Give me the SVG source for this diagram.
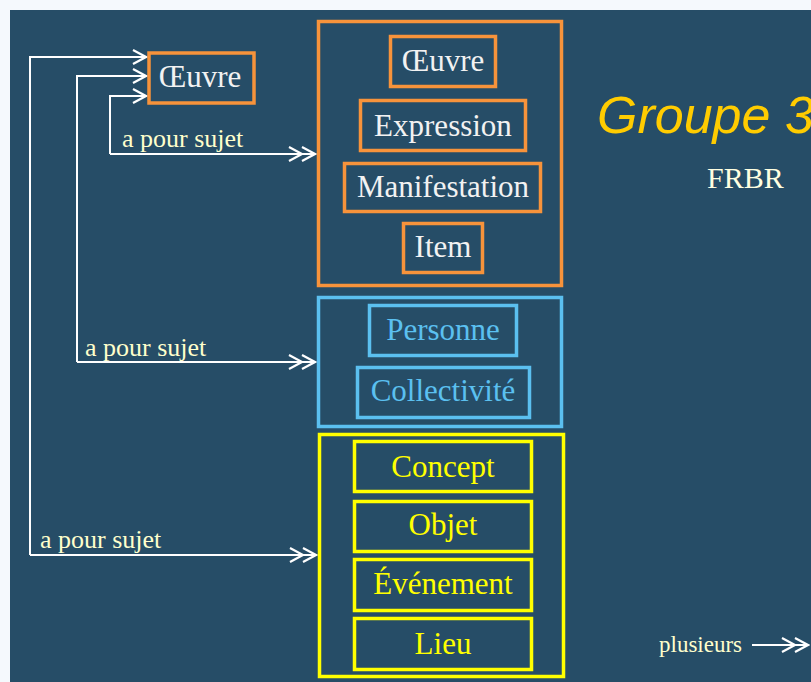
<svg xmlns="http://www.w3.org/2000/svg" width="811" height="682" viewBox="0 0 811 682">
<style>
.bg{fill:#264D67}
.box{fill:none;stroke-width:3.5}
.or{stroke:#F7933B}
.bl{stroke:#5BC0F0}
.ye{stroke:#FFFF00}
.t{font-family:"Liberation Serif","Times New Roman",serif;font-size:31px;text-anchor:middle}
.tw{fill:#F2F2F2}
.tb{fill:#5BC0F0}
.ty{fill:#FFFF00}
.lab{font-family:"Liberation Serif","Times New Roman",serif;font-size:26px;fill:#FFFFCC}
.conn{fill:none;stroke:#FFFFFF;stroke-width:2}
</style>
<defs>
<marker id="a1" markerUnits="userSpaceOnUse" viewBox="-14 -9 16 18" markerWidth="16" markerHeight="18" refX="0" refY="0" orient="auto">
<path d="M-13,-7 L0,0 L-13,7" fill="none" stroke="#FFFFFF" stroke-width="2.2"/>
</marker>
<marker id="a2" markerUnits="userSpaceOnUse" viewBox="-28 -9 30 18" markerWidth="30" markerHeight="18" refX="0" refY="0" orient="auto">
<path d="M-26,-7 L-13,0 L-26,7 M-13,-7 L0,0 L-13,7" fill="none" stroke="#FFFFFF" stroke-width="2.2"/>
</marker>
</defs>
<rect x="0" y="0" width="811" height="682" fill="#F5F9FD"/>
<rect class="bg" x="10" y="10" width="801" height="672"/>

<g id="connectors">
<path class="conn" d="M30,555 L30,57 L146,57" marker-end="url(#a1)"/>
<path class="conn" d="M77,362 L77,76 L146,76" marker-end="url(#a1)"/>
<path class="conn" d="M110,154 L110,96 L146,96" marker-end="url(#a1)"/>
<path class="conn" d="M110,154 L315,154" marker-end="url(#a2)"/>
<path class="conn" d="M77,362 L315,362" marker-end="url(#a2)"/>
<path class="conn" d="M30,555 L316,555" marker-end="url(#a2)"/>
<text class="lab" x="122" y="147">a pour sujet</text>
<text class="lab" x="85" y="356">a pour sujet</text>
<text class="lab" x="40" y="548">a pour sujet</text>
</g>

<g id="oeuvre-source">
<rect class="box or" x="149" y="53" width="105" height="50"/>
<text class="t tw" x="200" y="87">Œuvre</text>
</g>

<g id="groupe1">
<rect class="box or" x="318.5" y="21.5" width="243" height="264"/>
<g id="oeuvre">
<rect class="box or" x="390.5" y="36.5" width="105" height="50"/>
<text class="t tw" x="443" y="71">Œuvre</text>
</g>
<g id="expression">
<rect class="box or" x="360.5" y="100.5" width="165" height="50"/>
<text class="t tw" x="443" y="136">Expression</text>
</g>
<g id="manifestation">
<rect class="box or" x="344.5" y="163.5" width="196" height="48"/>
<text class="t tw" x="443" y="197">Manifestation</text>
</g>
<g id="item">
<rect class="box or" x="403.5" y="223.5" width="79" height="49"/>
<text class="t tw" x="443" y="257">Item</text>
</g>
</g>

<g id="groupe2">
<rect class="box bl" x="318.5" y="297.5" width="243" height="129"/>
<g id="personne">
<rect class="box bl" x="369.5" y="305.5" width="147" height="50"/>
<text class="t tb" x="443" y="340">Personne</text>
</g>
<g id="collectivite">
<rect class="box bl" x="357.5" y="367.5" width="172" height="50"/>
<text class="t tb" x="443" y="401">Collectivité</text>
</g>
</g>

<g id="groupe3">
<rect class="box ye" x="319.5" y="434.5" width="244" height="242"/>
<g id="concept">
<rect class="box ye" x="354.5" y="441.5" width="177" height="50"/>
<text class="t ty" x="443" y="477">Concept</text>
</g>
<g id="objet">
<rect class="box ye" x="354.5" y="501.5" width="177" height="50"/>
<text class="t ty" x="443" y="535">Objet</text>
</g>
<g id="evenement">
<rect class="box ye" x="354.5" y="559.5" width="177" height="51"/>
<text class="t ty" x="443" y="594">Événement</text>
</g>
<g id="lieu">
<rect class="box ye" x="354.5" y="618.5" width="177" height="51"/>
<text class="t ty" x="443" y="654">Lieu</text>
</g>
</g>

<g id="titre">
<text x="597" y="133" font-family="'Liberation Sans',Arial,sans-serif" font-style="italic" font-size="52" fill="#FFCC00">Groupe 3</text>
<text x="707" y="188" font-family="'Liberation Serif','Times New Roman',serif" font-size="30" fill="#FFFFE0">FRBR</text>
</g>

<g id="legende">
<text class="lab" x="659" y="652" style="font-size:23px">plusieurs</text>
<path class="conn" d="M752,645 L808,645" marker-end="url(#a2)"/>
</g>
</svg>
